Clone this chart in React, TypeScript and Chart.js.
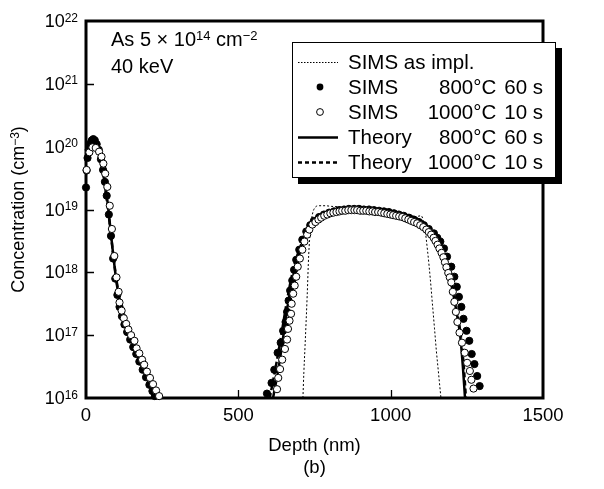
import React, { useEffect, useRef } from 'react';
import { Chart, registerables } from 'chart.js';

Chart.register(...registerables);

// Axis ticks
const depthTicks = [0, 500, 1000, 1500];
const decadeExponents = [16, 17, 18, 19, 20, 21, 22];

// Legend rows
const legendNames = ['SIMS as impl.', 'SIMS', 'SIMS', 'Theory', 'Theory'];
const legendTemps = ['', '800°C', '1000°C', '800°C', '1000°C'];
const legendTimes = ['', '60 s', '10 s', '60 s', '10 s'];

// All profiles: depth in nm, concentration as log10(cm^-3)

// SIMS 800 °C 60 s
const sims800Depth = [
  0, 2, 5, 9, 14, 19, 24, 29, 35, 42, 49, 56, 62, 68, 75, 82, 89, 96, 103, 110, 118, 126, 135, 145, 155, 165,
  175, 186, 197, 208, 218, 226,
  594, 609, 618, 629, 639, 647, 655, 660, 665, 670, 677, 683, 690, 700, 710, 723, 736,
  748, 765, 781, 798, 814, 830, 847, 863, 880, 896, 912, 929, 945, 962, 978, 994, 1011, 1027, 1043, 1060, 1076,
  1093, 1109, 1125, 1142, 1153,
  1163, 1175, 1185, 1199, 1209, 1217, 1224, 1232, 1239, 1249, 1258, 1266, 1275, 1284, 1292,
];
const sims800Log = [
  19.35, 19.62, 19.82, 19.95, 20.05, 20.1, 20.12, 20.1, 20.04, 19.95, 19.8, 19.63, 19.44, 19.22, 18.92, 18.58,
  18.22, 17.9, 17.64, 17.45, 17.3, 17.17, 17.05, 16.93, 16.81, 16.7, 16.58, 16.45, 16.33, 16.21, 16.11, 16.03,
  16.07, 16.24, 16.45, 16.72, 16.88, 17.07, 17.21, 17.37, 17.55, 17.71, 17.87, 18.04, 18.2, 18.36, 18.52, 18.65, 18.75,
  18.82, 18.88, 18.92, 18.95, 18.97, 18.99, 19.0, 19.01, 19.01, 19.01, 19.0, 19.0, 18.99, 18.98, 18.97, 18.96,
  18.94, 18.92, 18.9, 18.87, 18.84, 18.8, 18.75, 18.69, 18.62, 18.55,
  18.49, 18.38, 18.25, 18.09, 17.93, 17.77, 17.61, 17.45, 17.26, 17.07, 16.91, 16.7, 16.54, 16.35, 16.19,
];

// SIMS 1000 °C 10 s
const sims1000Depth = [
  2, 11, 21, 32, 43, 51, 57, 63, 70, 78, 85, 93, 100, 107, 110, 117, 124, 132, 139, 148, 159, 166, 175, 184,
  191, 200, 210, 220, 230, 240,
  627, 631, 637, 644, 653, 660, 663, 668, 673, 675, 680, 685, 690, 695, 702, 710, 717, 726, 733,
  743, 753, 763, 772, 782, 792, 802, 812, 822, 832, 841, 851, 861, 871, 881, 890, 900, 910, 920, 930, 940,
  949, 959, 969, 979, 989, 999, 1008, 1018, 1028, 1038, 1048, 1058, 1067, 1077, 1087, 1097, 1107, 1117, 1125,
  1133, 1141, 1147, 1154, 1160, 1167, 1173, 1178, 1183, 1189,
  1194, 1199, 1204, 1209, 1214, 1219, 1226, 1234, 1243, 1251, 1260, 1265, 1272,
];
const sims1000Log = [
  19.63, 19.91, 19.99, 19.98, 19.92, 19.84, 19.73, 19.57, 19.36, 19.06, 18.69, 18.26, 17.92, 17.69, 17.52,
  17.39, 17.27, 17.18, 17.09, 17.0, 16.91, 16.79, 16.71, 16.61, 16.53, 16.42, 16.32, 16.22, 16.12, 16.03,
  16.14, 16.32, 16.46, 16.61, 16.78, 16.93, 17.1, 17.23, 17.34, 17.5, 17.66, 17.79, 17.93, 18.09, 18.22, 18.36,
  18.49, 18.6, 18.68,
  18.76, 18.8, 18.84, 18.87, 18.9, 18.92, 18.94, 18.95, 18.96, 18.97, 18.98, 18.98, 18.99, 18.99, 18.99, 18.99,
  18.98, 18.98, 18.98, 18.97, 18.97, 18.96, 18.96, 18.95, 18.94, 18.93, 18.92, 18.91, 18.9, 18.89, 18.88, 18.86,
  18.84, 18.82, 18.8, 18.78, 18.75, 18.72, 18.68, 18.64, 18.6, 18.55, 18.5, 18.44, 18.38, 18.31, 18.24, 18.16,
  18.08, 17.99,
  17.92, 17.84, 17.69, 17.53, 17.37, 17.21, 17.04, 16.88, 16.72, 16.56, 16.43, 16.29, 16.15,
];

// SIMS as implanted
const implPeakDepth = [0, 10, 20, 30, 40, 50, 60, 70, 80, 90, 100, 110, 125, 140, 160, 180, 200, 225];
const implPeakLog = [19.8, 20.0, 20.05, 20.0, 19.85, 19.65, 19.35, 19.0, 18.6, 18.2, 17.85, 17.55, 17.25, 17.05, 16.8, 16.55, 16.32, 16.05];
const implLayerDepth = [
  712, 715, 719, 726, 731, 737, 743, 750, 765, 785, 805, 845, 895, 945, 995, 1045, 1075, 1100, 1112, 1122,
  1130, 1137, 1144, 1150, 1156, 1161, 1165,
];
const implLayerLog = [
  16.0, 16.4, 16.83, 17.63, 18.28, 18.7, 18.92, 19.02, 19.06, 19.06, 19.05, 19.04, 19.02, 19.0, 18.97, 18.92,
  18.88, 18.9, 18.7, 18.3, 17.9, 17.5, 17.1, 16.75, 16.45, 16.2, 16.0,
];

// Theory 800 °C 60 s
const theory800PeakDepth = [0, 10, 20, 30, 40, 50, 60, 70, 80, 90, 100, 110, 120, 135, 150, 170, 190, 210, 230];
const theory800PeakLog = [19.9, 20.05, 20.1, 20.05, 19.92, 19.75, 19.5, 19.15, 18.7, 18.25, 17.85, 17.55, 17.32, 17.1, 16.9, 16.65, 16.42, 16.2, 16.0];
const theory800LayerDepth = [614, 633, 648, 663, 683, 708, 743, 798, 907, 1016, 1104, 1147, 1180, 1200, 1215, 1228, 1237, 1244];
const theory800LayerLog = [16.0, 16.5, 17.0, 17.5, 18.0, 18.4, 18.75, 18.93, 19.0, 18.95, 18.8, 18.55, 18.2, 17.8, 17.4, 17.0, 16.5, 16.0];

// Theory 1000 °C 10 s
const theory1000PeakDepth = [0, 10, 20, 30, 40, 50, 60, 70, 80, 90, 100, 110, 120, 135, 150, 170, 190, 210, 232];
const theory1000PeakLog = [19.85, 20.02, 20.08, 20.03, 19.9, 19.72, 19.45, 19.1, 18.68, 18.25, 17.88, 17.58, 17.35, 17.12, 16.93, 16.68, 16.45, 16.22, 16.0];
const theory1000LayerDepth = [603, 623, 641, 658, 678, 703, 743, 798, 907, 1016, 1104, 1147, 1180, 1200, 1217, 1230, 1240, 1247];
const theory1000LayerLog = [16.0, 16.5, 17.0, 17.5, 18.0, 18.4, 18.78, 18.95, 19.0, 18.95, 18.8, 18.55, 18.2, 17.8, 17.4, 17.0, 16.5, 16.0];

const FONT = "'Liberation Sans', Arial, Helvetica, sans-serif";

const toPoints = (depth: number[], logc: number[]) =>
  depth.map((x, i) => ({ x, y: Math.pow(10, logc[i]) }));

type Part = { t: string; sup?: boolean };

function drawRich(
  ctx: CanvasRenderingContext2D,
  parts: Part[],
  x: number,
  y: number,
  align: 'left' | 'right' | 'center',
  size: number,
  supSize: number,
) {
  const widths = parts.map((p) => {
    ctx.font = `${p.sup ? supSize : size}px ${FONT}`;
    return ctx.measureText(p.t).width;
  });
  const total = widths.reduce((a, b) => a + b, 0);
  let cx = align === 'left' ? x : align === 'right' ? x - total : x - total / 2;
  ctx.textAlign = 'left';
  ctx.textBaseline = 'alphabetic';
  parts.forEach((p, i) => {
    ctx.font = `${p.sup ? supSize : size}px ${FONT}`;
    ctx.fillText(p.t, cx, p.sup ? y - size * 0.3 : y);
    cx += widths[i];
  });
}

const framePlugin = {
  id: 'frameAndTicks',
  beforeDatasetsDraw(chart: any) {
    const { ctx, chartArea: a, scales } = chart;
    ctx.save();
    ctx.strokeStyle = '#000';
    // inward ticks
    ctx.lineWidth = 1.3;
    ctx.beginPath();
    decadeExponents.slice(1, -1).forEach((e) => {
      const y = Math.round(scales.y.getPixelForValue(Math.pow(10, e))) + 0.5;
      ctx.moveTo(a.left, y);
      ctx.lineTo(a.left + 8, y);
    });
    depthTicks.slice(1, -1).forEach((d) => {
      const x = Math.round(scales.x.getPixelForValue(d)) + 0.5;
      ctx.moveTo(x, a.bottom);
      ctx.lineTo(x, a.bottom - 8);
    });
    ctx.stroke();
    // frame
    ctx.lineWidth = 3;
    ctx.strokeRect(a.left, a.top, a.right - a.left, a.bottom - a.top);
    ctx.restore();
  },
  afterDraw(chart: any) {
    const { ctx, chartArea: a, scales } = chart;
    ctx.save();
    ctx.fillStyle = '#000';

    // concentration tick labels
    decadeExponents.forEach((e) => {
      const y = scales.y.getPixelForValue(Math.pow(10, e));
      drawRich(ctx, [{ t: '10' }, { t: String(e), sup: true }], a.left - 8, y + 6, 'right', 18, 12);
    });

    // depth tick labels
    ctx.font = `18.5px ${FONT}`;
    ctx.textAlign = 'center';
    ctx.textBaseline = 'alphabetic';
    depthTicks.forEach((d) => {
      ctx.fillText(String(d), scales.x.getPixelForValue(d), a.bottom + 23);
    });

    // axis titles
    ctx.font = `18.5px ${FONT}`;
    ctx.fillText('Depth (nm)', (a.left + a.right) / 2, a.bottom + 53);
    ctx.fillText('(b)', (a.left + a.right) / 2, a.bottom + 75);

    ctx.save();
    ctx.translate(24, (a.top + a.bottom) / 2);
    ctx.rotate(-Math.PI / 2);
    drawRich(ctx, [{ t: 'Concentration (cm' }, { t: '−3', sup: true }, { t: ')' }], 0, 0, 'center', 18, 12);
    ctx.restore();

    // implant conditions
    drawRich(
      ctx,
      [{ t: 'As 5 × 10' }, { t: '14', sup: true }, { t: ' cm' }, { t: '−2', sup: true }],
      a.left + 25, 46, 'left', 20, 13,
    );
    drawRich(ctx, [{ t: '40 keV' }], a.left + 25, 73, 'left', 20, 13);

    // legend box with drop shadow
    const bx = 292, by = 42, bw = 264, bh = 136;
    ctx.fillStyle = '#000';
    ctx.fillRect(bx + 6, by + 6, bw, bh);
    ctx.fillStyle = '#fff';
    ctx.fillRect(bx, by, bw, bh);
    ctx.strokeStyle = '#000';
    ctx.lineWidth = 1;
    ctx.strokeRect(bx + 0.5, by + 0.5, bw - 1, bh - 1);

    const rowY = (i: number) => by + 20 + i * 25;
    const sx0 = bx + 6, sx1 = bx + 46, scx = bx + 28;
    const textRight = bx + 251;
    legendNames.forEach((name, i) => {
      const y = rowY(i);
      ctx.save();
      ctx.strokeStyle = '#000';
      ctx.fillStyle = '#000';
      if (i === 0 || i === 3 || i === 4) {
        ctx.beginPath();
        ctx.lineWidth = i === 0 ? 1 : 2.5;
        ctx.setLineDash(i === 0 ? [1.5, 1.5] : i === 4 ? [4, 3] : []);
        ctx.moveTo(sx0, y + 0.5);
        ctx.lineTo(sx1, y + 0.5);
        ctx.stroke();
      } else {
        ctx.beginPath();
        ctx.arc(scx, y, 3.4, 0, Math.PI * 2);
        if (i === 1) {
          ctx.fill();
        } else {
          ctx.fillStyle = '#fff';
          ctx.fill();
          ctx.lineWidth = 1;
          ctx.stroke();
        }
      }
      ctx.restore();
      ctx.fillStyle = '#000';
      ctx.font = `20.5px ${FONT}`;
      ctx.textBaseline = 'middle';
      ctx.textAlign = 'left';
      ctx.fillText(name, bx + 56, y + 1);
      if (legendTemps[i]) {
        const tw = ctx.measureText(legendTimes[i]).width;
        ctx.textAlign = 'right';
        ctx.fillText(legendTimes[i], textRight, y + 1);
        ctx.fillText(legendTemps[i], textRight - tw - 8, y + 1);
      }
    });
    ctx.restore();
  },
};

function lineSet(data: { x: number; y: number }[], width: number, dash: number[], order: number) {
  return {
    data,
    showLine: true,
    pointRadius: 0,
    borderColor: '#000',
    borderWidth: width,
    borderDash: dash,
    cubicInterpolationMode: 'monotone' as const,
    fill: false,
    order,
    clip: false as any,
  };
}

export default function App() {
  const canvasRef = useRef<HTMLCanvasElement | null>(null);

  useEffect(() => {
    if (!canvasRef.current) return;
    const datasets: any[] = [
      {
        data: toPoints(sims1000Depth, sims1000Log),
        showLine: false,
        pointRadius: 3.6,
        pointBackgroundColor: '#fff',
        pointBorderColor: '#000',
        pointBorderWidth: 1,
        order: 0,
        clip: false,
      },
      {
        data: toPoints(sims800Depth, sims800Log),
        showLine: false,
        pointRadius: 3.6,
        pointBackgroundColor: '#000',
        pointBorderColor: '#000',
        pointBorderWidth: 1,
        order: 1,
        clip: false,
      },
      lineSet(toPoints(theory800PeakDepth, theory800PeakLog), 2.5, [], 2),
      lineSet(toPoints(theory800LayerDepth, theory800LayerLog), 2.5, [], 2),
      lineSet(toPoints(theory1000PeakDepth, theory1000PeakLog), 2.5, [5, 3], 3),
      lineSet(toPoints(theory1000LayerDepth, theory1000LayerLog), 2.5, [5, 3], 3),
      lineSet(toPoints(implPeakDepth, implPeakLog), 1, [2, 2], 4),
      lineSet(toPoints(implLayerDepth, implLayerLog), 1, [2, 2], 4),
    ];

    const chart = new Chart(canvasRef.current, {
      type: 'scatter',
      data: { datasets },
      options: {
        responsive: false,
        animation: false,
        events: [],
        layout: { padding: { left: 86, right: 61, top: 21, bottom: 91 } },
        plugins: { legend: { display: false }, tooltip: { enabled: false } },
        scales: {
          x: { type: 'linear', min: 0, max: 1500, display: false },
          y: { type: 'logarithmic', min: 1e16, max: 1e22, display: false },
        },
      },
      plugins: [framePlugin],
    });
    return () => chart.destroy();
  }, []);

  return (
    <div style={{ position: 'fixed', left: 0, top: 0, width: 604, height: 489, background: '#fff' }}>
      <canvas ref={canvasRef} width={604} height={489} style={{ display: 'block' }} />
    </div>
  );
}
